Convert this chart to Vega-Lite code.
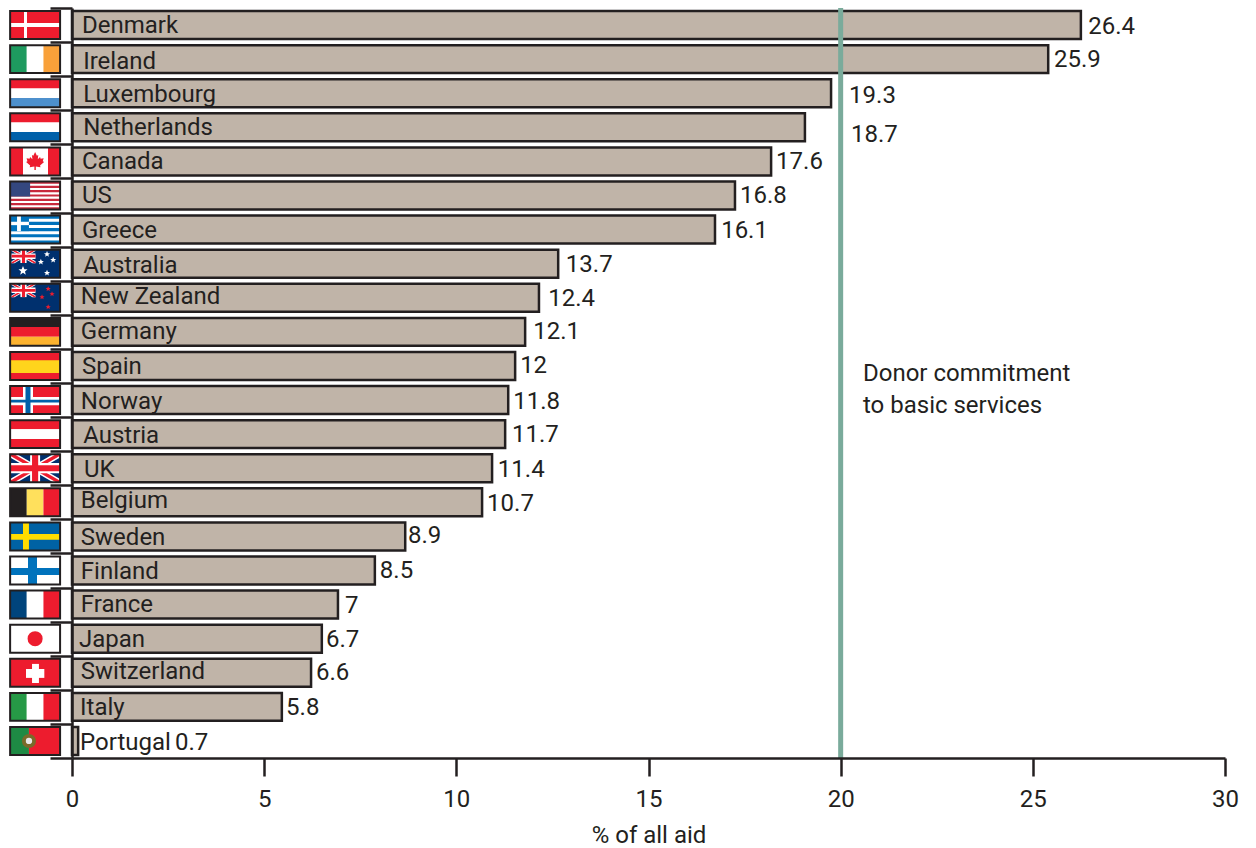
{
"$schema":"https://vega.github.io/schema/vega-lite/v6.json",
"width":1153,"height":750,
"autosize":"none",
"padding":{"left":72,"top":8,"right":31,"bottom":90},
"background":"white",
"config":{"view":{"stroke":null},"font":"Roboto"},
"datasets":{
"rows":[
{"country":"Denmark","value":26.4,"start":0,"drawn":26.25,"top":0.09,"bottom":0.91,"nameX":0.26,"nameY":0.5,"labelX":26.44,"labelY":0.53},
{"country":"Ireland","value":25.9,"start":0,"drawn":25.4,"top":1.09,"bottom":1.91,"nameX":0.29,"nameY":1.55,"labelX":25.55,"labelY":1.5},
{"country":"Luxembourg","value":19.3,"start":0,"drawn":19.75,"top":2.09,"bottom":2.91,"nameX":0.29,"nameY":2.52,"labelX":20.22,"labelY":2.55},
{"country":"Netherlands","value":18.7,"start":0,"drawn":19.07,"top":3.09,"bottom":3.91,"nameX":0.29,"nameY":3.49,"labelX":20.27,"labelY":3.7},
{"country":"Canada","value":17.6,"start":0,"drawn":18.19,"top":4.09,"bottom":4.91,"nameX":0.26,"nameY":4.49,"labelX":18.32,"labelY":4.49},
{"country":"US","value":16.8,"start":0,"drawn":17.25,"top":5.09,"bottom":5.91,"nameX":0.26,"nameY":5.49,"labelX":17.38,"labelY":5.49},
{"country":"Greece","value":16.1,"start":0,"drawn":16.73,"top":6.09,"bottom":6.91,"nameX":0.26,"nameY":6.51,"labelX":16.89,"labelY":6.51},
{"country":"Australia","value":13.7,"start":0,"drawn":12.65,"top":7.09,"bottom":7.91,"nameX":0.29,"nameY":7.54,"labelX":12.85,"labelY":7.51},
{"country":"New Zealand","value":12.4,"start":0,"drawn":12.15,"top":8.09,"bottom":8.91,"nameX":0.23,"nameY":8.45,"labelX":12.39,"labelY":8.51},
{"country":"Germany","value":12.1,"start":0,"drawn":11.79,"top":9.09,"bottom":9.91,"nameX":0.23,"nameY":9.47,"labelX":12.0,"labelY":9.47},
{"country":"Spain","value":12,"start":0,"drawn":11.53,"top":10.09,"bottom":10.91,"nameX":0.26,"nameY":10.5,"labelX":11.66,"labelY":10.47},
{"country":"Norway","value":11.8,"start":0,"drawn":11.35,"top":11.09,"bottom":11.91,"nameX":0.23,"nameY":11.53,"labelX":11.48,"labelY":11.53},
{"country":"Austria","value":11.7,"start":0,"drawn":11.27,"top":12.09,"bottom":12.91,"nameX":0.29,"nameY":12.53,"labelX":11.45,"labelY":12.5},
{"country":"UK","value":11.4,"start":0,"drawn":10.93,"top":13.09,"bottom":13.91,"nameX":0.31,"nameY":13.52,"labelX":11.08,"labelY":13.52},
{"country":"Belgium","value":10.7,"start":0,"drawn":10.67,"top":14.09,"bottom":14.91,"nameX":0.23,"nameY":14.43,"labelX":10.8,"labelY":14.52},
{"country":"Sweden","value":8.9,"start":0,"drawn":8.67,"top":15.09,"bottom":15.91,"nameX":0.23,"nameY":15.52,"labelX":8.74,"labelY":15.46},
{"country":"Finland","value":8.5,"start":0,"drawn":7.88,"top":16.09,"bottom":16.91,"nameX":0.23,"nameY":16.51,"labelX":8.01,"labelY":16.49},
{"country":"France","value":7,"start":0,"drawn":6.92,"top":17.09,"bottom":17.91,"nameX":0.23,"nameY":17.48,"labelX":7.1,"labelY":17.51},
{"country":"Japan","value":6.7,"start":0,"drawn":6.5,"top":18.09,"bottom":18.91,"nameX":0.18,"nameY":18.51,"labelX":6.61,"labelY":18.51},
{"country":"Switzerland","value":6.6,"start":0,"drawn":6.22,"top":19.09,"bottom":19.91,"nameX":0.23,"nameY":19.45,"labelX":6.35,"labelY":19.48},
{"country":"Italy","value":5.8,"start":0,"drawn":5.46,"top":20.09,"bottom":20.91,"nameX":0.21,"nameY":20.5,"labelX":5.57,"labelY":20.5},
{"country":"Portugal","value":0.7,"start":0,"drawn":0.16,"top":21.09,"bottom":21.91,"nameX":0.21,"nameY":21.53,"labelX":2.68,"labelY":21.53}
],
"pieces":[
{"a":-1.61,"b":-0.31,"t":0.09,"u":0.91,"c":"#ed1c2e"},
{"a":-1.249,"b":-1.171,"t":0.09,"u":0.91,"c":"#ffffff"},
{"a":-1.61,"b":-0.31,"t":0.44,"u":0.56,"c":"#ffffff"},
{"a":-1.61,"b":-1.177,"t":1.09,"u":1.91,"c":"#1e9a5f"},
{"a":-1.177,"b":-0.743,"t":1.09,"u":1.91,"c":"#ffffff"},
{"a":-0.743,"b":-0.31,"t":1.09,"u":1.91,"c":"#f9a13a"},
{"a":-1.61,"b":-0.31,"t":2.09,"u":2.36,"c":"#ed1c2e"},
{"a":-1.61,"b":-0.31,"t":2.36,"u":2.64,"c":"#ffffff"},
{"a":-1.61,"b":-0.31,"t":2.64,"u":2.91,"c":"#4d90cd"},
{"a":-1.61,"b":-0.31,"t":3.09,"u":3.36,"c":"#ed1c2e"},
{"a":-1.61,"b":-0.31,"t":3.36,"u":3.64,"c":"#ffffff"},
{"a":-1.61,"b":-0.31,"t":3.64,"u":3.91,"c":"#0060a9"},
{"a":-1.61,"b":-0.31,"t":4.09,"u":4.91,"c":"#ed1c2e"},
{"a":-1.275,"b":-0.625,"t":4.09,"u":4.91,"c":"#ffffff"},
{"a":-1.61,"b":-0.31,"t":5.09,"u":5.91,"c":"#ffffff"},
{"a":-1.61,"b":-0.31,"t":5.09,"u":5.153,"c":"#c8283c"},
{"a":-1.61,"b":-0.31,"t":5.216,"u":5.279,"c":"#c8283c"},
{"a":-1.61,"b":-0.31,"t":5.342,"u":5.405,"c":"#c8283c"},
{"a":-1.61,"b":-0.31,"t":5.468,"u":5.531,"c":"#c8283c"},
{"a":-1.61,"b":-0.31,"t":5.595,"u":5.658,"c":"#c8283c"},
{"a":-1.61,"b":-0.31,"t":5.721,"u":5.784,"c":"#c8283c"},
{"a":-1.61,"b":-0.31,"t":5.847,"u":5.91,"c":"#c8283c"},
{"a":-1.61,"b":-1.09,"t":5.09,"u":5.53,"c":"#34477f"},
{"a":-1.61,"b":-0.31,"t":6.09,"u":6.91,"c":"#0072bc"},
{"a":-1.61,"b":-0.31,"t":6.181,"u":6.272,"c":"#ffffff"},
{"a":-1.61,"b":-0.31,"t":6.363,"u":6.454,"c":"#ffffff"},
{"a":-1.61,"b":-0.31,"t":6.545,"u":6.636,"c":"#ffffff"},
{"a":-1.61,"b":-0.31,"t":6.727,"u":6.818,"c":"#ffffff"},
{"a":-1.61,"b":-1.12,"t":6.09,"u":6.545,"c":"#0072bc"},
{"a":-1.43,"b":-1.33,"t":6.09,"u":6.545,"c":"#ffffff"},
{"a":-1.61,"b":-1.12,"t":6.27,"u":6.37,"c":"#ffffff"},
{"a":-1.61,"b":-0.31,"t":7.09,"u":7.91,"c":"#00306e"},
{"a":-1.61,"b":-0.31,"t":8.09,"u":8.91,"c":"#00306e"},
{"a":-1.61,"b":-0.31,"t":9.09,"u":9.36,"c":"#231f20"},
{"a":-1.61,"b":-0.31,"t":9.36,"u":9.64,"c":"#ed1c2e"},
{"a":-1.61,"b":-0.31,"t":9.64,"u":9.91,"c":"#fdb32f"},
{"a":-1.61,"b":-0.31,"t":10.09,"u":10.91,"c":"#ed1c2e"},
{"a":-1.61,"b":-0.31,"t":10.33,"u":10.71,"c":"#ffd41c"},
{"a":-1.61,"b":-0.31,"t":11.09,"u":11.91,"c":"#ed1c2e"},
{"a":-1.275,"b":-1.015,"t":11.09,"u":11.91,"c":"#ffffff"},
{"a":-1.61,"b":-0.31,"t":11.41,"u":11.65,"c":"#ffffff"},
{"a":-1.21,"b":-1.08,"t":11.09,"u":11.91,"c":"#0060a9"},
{"a":-1.61,"b":-0.31,"t":11.49,"u":11.57,"c":"#0060a9"},
{"a":-1.61,"b":-0.31,"t":12.09,"u":12.36,"c":"#ed1c2e"},
{"a":-1.61,"b":-0.31,"t":12.36,"u":12.64,"c":"#ffffff"},
{"a":-1.61,"b":-0.31,"t":12.64,"u":12.91,"c":"#ed1c2e"},
{"a":-1.61,"b":-0.31,"t":13.09,"u":13.91,"c":"#00306e"},
{"a":-1.61,"b":-1.177,"t":14.09,"u":14.91,"c":"#231f20"},
{"a":-1.177,"b":-0.743,"t":14.09,"u":14.91,"c":"#ffe05c"},
{"a":-0.743,"b":-0.31,"t":14.09,"u":14.91,"c":"#ed1c2e"},
{"a":-1.61,"b":-0.31,"t":15.09,"u":15.91,"c":"#0062a4"},
{"a":-1.275,"b":-1.12,"t":15.09,"u":15.91,"c":"#ffdd00"},
{"a":-1.61,"b":-0.31,"t":15.43,"u":15.6,"c":"#ffdd00"},
{"a":-1.61,"b":-0.31,"t":16.09,"u":16.91,"c":"#ffffff"},
{"a":-1.145,"b":-0.91,"t":16.09,"u":16.91,"c":"#0072bc"},
{"a":-1.61,"b":-0.31,"t":16.43,"u":16.63,"c":"#0072bc"},
{"a":-1.61,"b":-1.177,"t":17.09,"u":17.91,"c":"#00447c"},
{"a":-1.177,"b":-0.743,"t":17.09,"u":17.91,"c":"#ffffff"},
{"a":-0.743,"b":-0.31,"t":17.09,"u":17.91,"c":"#ed1c2e"},
{"a":-1.61,"b":-0.31,"t":18.09,"u":18.91,"c":"#ffffff"},
{"a":-1.61,"b":-0.31,"t":19.09,"u":19.91,"c":"#ed1c2e"},
{"a":-1.197,"b":-0.72,"t":19.39,"u":19.65,"c":"#ffffff"},
{"a":-1.04,"b":-0.86,"t":19.24,"u":19.8,"c":"#ffffff"},
{"a":-1.61,"b":-1.177,"t":20.09,"u":20.91,"c":"#269946"},
{"a":-1.177,"b":-0.743,"t":20.09,"u":20.91,"c":"#ffffff"},
{"a":-0.743,"b":-0.31,"t":20.09,"u":20.91,"c":"#ed1c2e"},
{"a":-1.61,"b":-1.12,"t":21.09,"u":21.91,"c":"#1e8a44"},
{"a":-1.12,"b":-0.31,"t":21.09,"u":21.91,"c":"#ed1c2e"}
],
"borders":[
{"a":-1.61,"b":-0.31,"t":0.09,"u":0.91},{"a":-1.61,"b":-0.31,"t":1.09,"u":1.91},{"a":-1.61,"b":-0.31,"t":2.09,"u":2.91},{"a":-1.61,"b":-0.31,"t":3.09,"u":3.91},{"a":-1.61,"b":-0.31,"t":4.09,"u":4.91},{"a":-1.61,"b":-0.31,"t":5.09,"u":5.91},{"a":-1.61,"b":-0.31,"t":6.09,"u":6.91},{"a":-1.61,"b":-0.31,"t":7.09,"u":7.91},{"a":-1.61,"b":-0.31,"t":8.09,"u":8.91},{"a":-1.61,"b":-0.31,"t":9.09,"u":9.91},{"a":-1.61,"b":-0.31,"t":10.09,"u":10.91},{"a":-1.61,"b":-0.31,"t":11.09,"u":11.91},{"a":-1.61,"b":-0.31,"t":12.09,"u":12.91},{"a":-1.61,"b":-0.31,"t":13.09,"u":13.91},{"a":-1.61,"b":-0.31,"t":14.09,"u":14.91},{"a":-1.61,"b":-0.31,"t":15.09,"u":15.91},{"a":-1.61,"b":-0.31,"t":16.09,"u":16.91},{"a":-1.61,"b":-0.31,"t":17.09,"u":17.91},{"a":-1.61,"b":-0.31,"t":18.09,"u":18.91},{"a":-1.61,"b":-0.31,"t":19.09,"u":19.91},{"a":-1.61,"b":-0.31,"t":20.09,"u":20.91},{"a":-1.61,"b":-0.31,"t":21.09,"u":21.91}
],
"glyphs":[
{"x":-0.96,"y":4.49,"s":324,"k":"leaf","c":"#ed1c2e"},
{"x":-1.262,"y":7.28,"s":576,"k":"jackX","c":"#ffffff"},
{"x":-1.262,"y":7.28,"s":576,"k":"jackThin","c":"#ed1c2e"},
{"x":-1.275,"y":7.71,"s":90,"k":"star","c":"#ffffff"},
{"x":-0.65,"y":7.22,"s":40,"k":"star","c":"#ffffff"},
{"x":-0.81,"y":7.45,"s":40,"k":"star","c":"#ffffff"},
{"x":-0.49,"y":7.39,"s":40,"k":"star","c":"#ffffff"},
{"x":-0.65,"y":7.77,"s":40,"k":"star","c":"#ffffff"},
{"x":-1.262,"y":8.28,"s":576,"k":"jackX","c":"#ffffff"},
{"x":-1.262,"y":8.28,"s":576,"k":"jackThin","c":"#ed1c2e"},
{"x":-0.62,"y":8.24,"s":30,"k":"star","c":"#ed1c2e"},
{"x":-0.78,"y":8.48,"s":30,"k":"star","c":"#ed1c2e"},
{"x":-0.52,"y":8.39,"s":30,"k":"star","c":"#ed1c2e"},
{"x":-0.62,"y":8.77,"s":30,"k":"star","c":"#ed1c2e"},
{"x":-0.96,"y":13.5,"s":2500,"k":"jackX","c":"#ffffff"},
{"x":-0.96,"y":13.5,"s":2500,"k":"jackThin","c":"#ed1c2e"},
{"x":-0.96,"y":18.5,"s":227,"k":"disc","c":"#ed1c2e"},
{"x":-1.12,"y":21.5,"s":200,"k":"disc","c":"#7a6a2a"},
{"x":-1.12,"y":21.5,"s":40,"k":"disc","c":"#e8e8e8"}
],
"jackCross":[
{"a":-1.342,"b":-1.182,"t":7.09,"u":7.48,"c":"#ffffff"},
{"a":-1.574,"b":-0.95,"t":7.2,"u":7.36,"c":"#ffffff"},
{"a":-1.302,"b":-1.222,"t":7.09,"u":7.48,"c":"#ed1c2e"},
{"a":-1.574,"b":-0.95,"t":7.24,"u":7.32,"c":"#ed1c2e"},
{"a":-1.342,"b":-1.182,"t":8.09,"u":8.48,"c":"#ffffff"},
{"a":-1.574,"b":-0.95,"t":8.2,"u":8.36,"c":"#ffffff"},
{"a":-1.302,"b":-1.222,"t":8.09,"u":8.48,"c":"#ed1c2e"},
{"a":-1.574,"b":-0.95,"t":8.24,"u":8.32,"c":"#ed1c2e"},
{"a":-1.09,"b":-0.83,"t":13.09,"u":13.91,"c":"#ffffff"},
{"a":-1.61,"b":-0.31,"t":13.35,"u":13.65,"c":"#ffffff"},
{"a":-1.04,"b":-0.88,"t":13.09,"u":13.91,"c":"#ed1c2e"},
{"a":-1.61,"b":-0.31,"t":13.41,"u":13.59,"c":"#ed1c2e"}
],
"notes":[
{"text":"Donor commitment","x":20.58,"y":10.7},
{"text":"to basic services","x":20.58,"y":11.65}
]
},
"layer":[
{"data":{"name":"pieces"},"mark":{"type":"rect"},
 "encoding":{
 "x":{"field":"a","type":"quantitative","scale":{"domain":[0,30],"nice":false,"zero":false},
  "axis":{"values":[0,5,10,15,20,25,30],"title":"% of all aid","grid":false,"domainColor":"#231f20","domainWidth":2.5,"tickColor":"#231f20","tickWidth":2.5,"tickSize":18,"labelFont":"Roboto","labelFontSize":24,"labelColor":"#231f20","labelPadding":11,"titleFont":"Roboto","titleFontSize":24,"titleFontWeight":"normal","titleColor":"#231f20","titlePadding":12,"labelFlush":false,"zindex":1}},
 "x2":{"field":"b"},
 "y":{"field":"t","type":"quantitative","scale":{"domain":[0,22],"reverse":true,"nice":false,"zero":false},
  "axis":{"values":[0,1,2,3,4,5,6,7,8,9,10,11,12,13,14,15,16,17,18,19,20,21,22],"tickCount":23,"title":null,"labels":false,"grid":false,"domainColor":"#231f20","domainWidth":2.5,"tickColor":"#231f20","tickWidth":2.5,"tickSize":22,"zindex":1}},
 "y2":{"field":"u"},
 "color":{"field":"c","type":"nominal","scale":null}}},
{"data":{"name":"glyphs"},"mark":{"type":"point","filled":true,"opacity":1,"strokeWidth":0},
 "encoding":{
 "x":{"field":"x","type":"quantitative"},
 "y":{"field":"y","type":"quantitative"},
 "size":{"field":"s","type":"quantitative","scale":null},
 "shape":{"field":"k","type":"nominal","legend":null,"scale":{"domain":["leaf","jackX","jackThin","star","disc"],"range":[
  "M0 -1L.2 -.6L.35 -.68L.3 -.2L.55 -.45L.62 -.25L.95 -.3L.85 .02L1 .1L.55 .5L.6 .68L.08 .6L.08 1L-.08 1L-.08 .6L-.6 .68L-.55 .5L-1 .1L-.85 .02L-.95 -.3L-.62 -.25L-.55 -.45L-.3 -.2L-.35 -.68L-.2 -.6Z",
  "M-1 -.58L-.75 -.58L1 .43L1 .58L.75 .58L-1 -.43ZM1 -.58L1 -.43L-.75 .58L-1 .58L-1 .43L.75 -.58Z",
  "M-1 -.58L-.87 -.58L1 .5L1 .58L.87 .58L-1 -.5ZM1 -.58L1 -.5L-.87 .58L-1 .58L-1 .5L.87 -.58Z",
  "M0 -1L.29 -.31L.95 -.31L.42 .16L.59 .81L0 .4L-.59 .81L-.42 .16L-.95 -.31L-.29 -.31Z",
  "circle"]}},
 "color":{"field":"c","type":"nominal","scale":null}}},
{"data":{"name":"jackCross"},"mark":{"type":"rect"},
 "encoding":{
 "x":{"field":"a","type":"quantitative"},"x2":{"field":"b"},
 "y":{"field":"t","type":"quantitative"},"y2":{"field":"u"},
 "color":{"field":"c","type":"nominal","scale":null}}},
{"data":{"name":"borders"},"mark":{"type":"rect","fillOpacity":0,"stroke":"#231f20","strokeWidth":2},
 "encoding":{
 "x":{"field":"a","type":"quantitative"},"x2":{"field":"b"},
 "y":{"field":"t","type":"quantitative"},"y2":{"field":"u"}}},
{"data":{"name":"rows"},"mark":{"type":"rect","fill":"#c0b4a8","stroke":"#231f20","strokeWidth":2.5},
 "encoding":{
 "x":{"field":"start","type":"quantitative"},"x2":{"field":"drawn"},
 "y":{"field":"top","type":"quantitative"},"y2":{"field":"bottom"}}},
{"data":{"values":[{"commitment":20}]},"mark":{"type":"rule","color":"#7aab9b","strokeWidth":5},
 "encoding":{"x":{"field":"commitment","type":"quantitative"}}},
{"data":{"name":"rows"},"mark":{"type":"text","align":"left","baseline":"middle","dy":1,"font":"Roboto","fontSize":24,"color":"#231f20"},
 "encoding":{
 "x":{"field":"nameX","type":"quantitative"},
 "y":{"field":"nameY","type":"quantitative"},
 "text":{"field":"country"}}},
{"data":{"name":"rows"},"mark":{"type":"text","align":"left","baseline":"middle","dy":1,"font":"Roboto","fontSize":24,"color":"#231f20"},
 "encoding":{
 "x":{"field":"labelX","type":"quantitative"},
 "y":{"field":"labelY","type":"quantitative"},
 "text":{"field":"value","type":"quantitative"}}},
{"data":{"name":"notes"},"mark":{"type":"text","align":"left","baseline":"middle","dy":1,"font":"Roboto","fontSize":24,"color":"#231f20"},
 "encoding":{
 "x":{"field":"x","type":"quantitative"},
 "y":{"field":"y","type":"quantitative"},
 "text":{"field":"text"}}}
]
}
